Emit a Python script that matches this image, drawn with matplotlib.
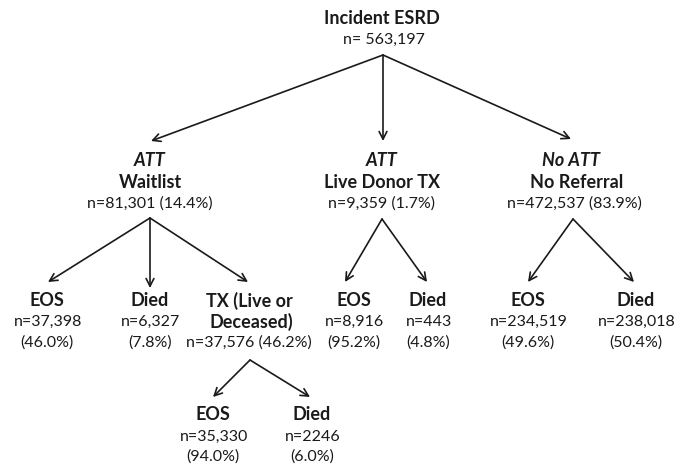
import matplotlib
matplotlib.use("Agg")
import matplotlib.pyplot as plt

# ---- data ----
root_title = "Incident ESRD"
root_n = "n= 563,197"

l1_tags = ["ATT", "ATT", "No ATT"]
l1_names = ["Waitlist", "Live Donor TX", "No Referral"]
l1_counts = ["81,301", "9,359", "472,537"]
l1_pcts = ["14.4%", "1.7%", "83.9%"]

l2_names = ["EOS", "Died", "TX (Live or\nDeceased)", "EOS", "Died", "EOS", "Died"]
l2_counts = ["37,398", "6,327", "37,576", "8,916", "443", "234,519", "238,018"]
l2_pcts = ["46.0%", "7.8%", "46.2%", "95.2%", "4.8%", "49.6%", "50.4%"]

l3_names = ["EOS", "Died"]
l3_counts = ["35,330", "2246"]
l3_pcts = ["94.0%", "6.0%"]

# ---- layout (pixel coordinates) ----
FONT = "Lato"
TC = "#1a1a1a"
fig = plt.figure(figsize=(6.85, 4.67), dpi=100)
ax = fig.add_axes([0, 0, 1, 1])
ax.set_xlim(0, 685)
ax.set_ylim(467, 0)
ax.axis("off")

BS = 13.0   # bold size
NS = 11.5   # normal size


def txt(x, y, s, bold=False, italic=False, size=NS):
    ax.text(x, y, s, ha="center", va="center", fontsize=size, color=TC,
            family=FONT, fontweight="bold" if bold else "normal",
            fontstyle="italic" if italic else "normal")


def arrow(p0, p1):
    ax.annotate("", xy=p1, xytext=p0,
                arrowprops=dict(arrowstyle="->,head_length=0.55,head_width=0.28",
                                lw=1.2, color=TC, shrinkA=0, shrinkB=0))


# root
txt(382, 19, root_title, bold=True, size=BS)
txt(384, 40, root_n)
root_origin = (383, 55)

l1_x = [150, 382, 574]
l1_tips = [(151, 141), (383, 141), (571, 139)]
l1_origin_y = 219
for i in range(3):
    arrow(root_origin, l1_tips[i])
    txt(l1_x[i] if i != 2 else 571, 160, l1_tags[i], bold=True, italic=True, size=BS)
    txt(l1_x[i] + (0 if i != 2 else 3), 182, l1_names[i], bold=True, size=BS)
    txt(l1_x[i], 204, f"n={l1_counts[i]} ({l1_pcts[i]})")

# level 2
l2_x = [47, 150, 249, 354, 428, 528, 636]
l2_parent = [0, 0, 0, 1, 1, 2, 2]
l2_tips = [(48, 282), (150, 288), (248, 282), (345, 282), (427, 282), (528, 282), (634, 282)]
l1_origins = [(150, 218), (382, 219), (573, 219)]
for j in range(len(l2_names)):
    arrow(l1_origins[l2_parent[j]], l2_tips[j])
    if "\n" in l2_names[j]:
        a, b = l2_names[j].split("\n")
        txt(l2_x[j], 301, a, bold=True, size=BS)
        txt(l2_x[j] + 2, 322, b, bold=True, size=BS)
        txt(l2_x[j], 343, f"n={l2_counts[j]} ({l2_pcts[j]})")
    else:
        txt(l2_x[j], 301, l2_names[j], bold=True, size=BS)
        txt(l2_x[j] + 1, 322, f"n={l2_counts[j]}")
        txt(l2_x[j], 343, f"({l2_pcts[j]})")

# level 3
l3_x = [213, 312]
l3_tips = [(213, 397), (310, 397)]
l3_origin = (250, 360)
for k in range(len(l3_names)):
    arrow(l3_origin, l3_tips[k])
    txt(l3_x[k], 415, l3_names[k], bold=True, size=BS)
    txt(l3_x[k] + 1, 437, f"n={l3_counts[k]}")
    txt(l3_x[k], 457, f"({l3_pcts[k]})")

fig.savefig("out.png", dpi=100, facecolor="white")
